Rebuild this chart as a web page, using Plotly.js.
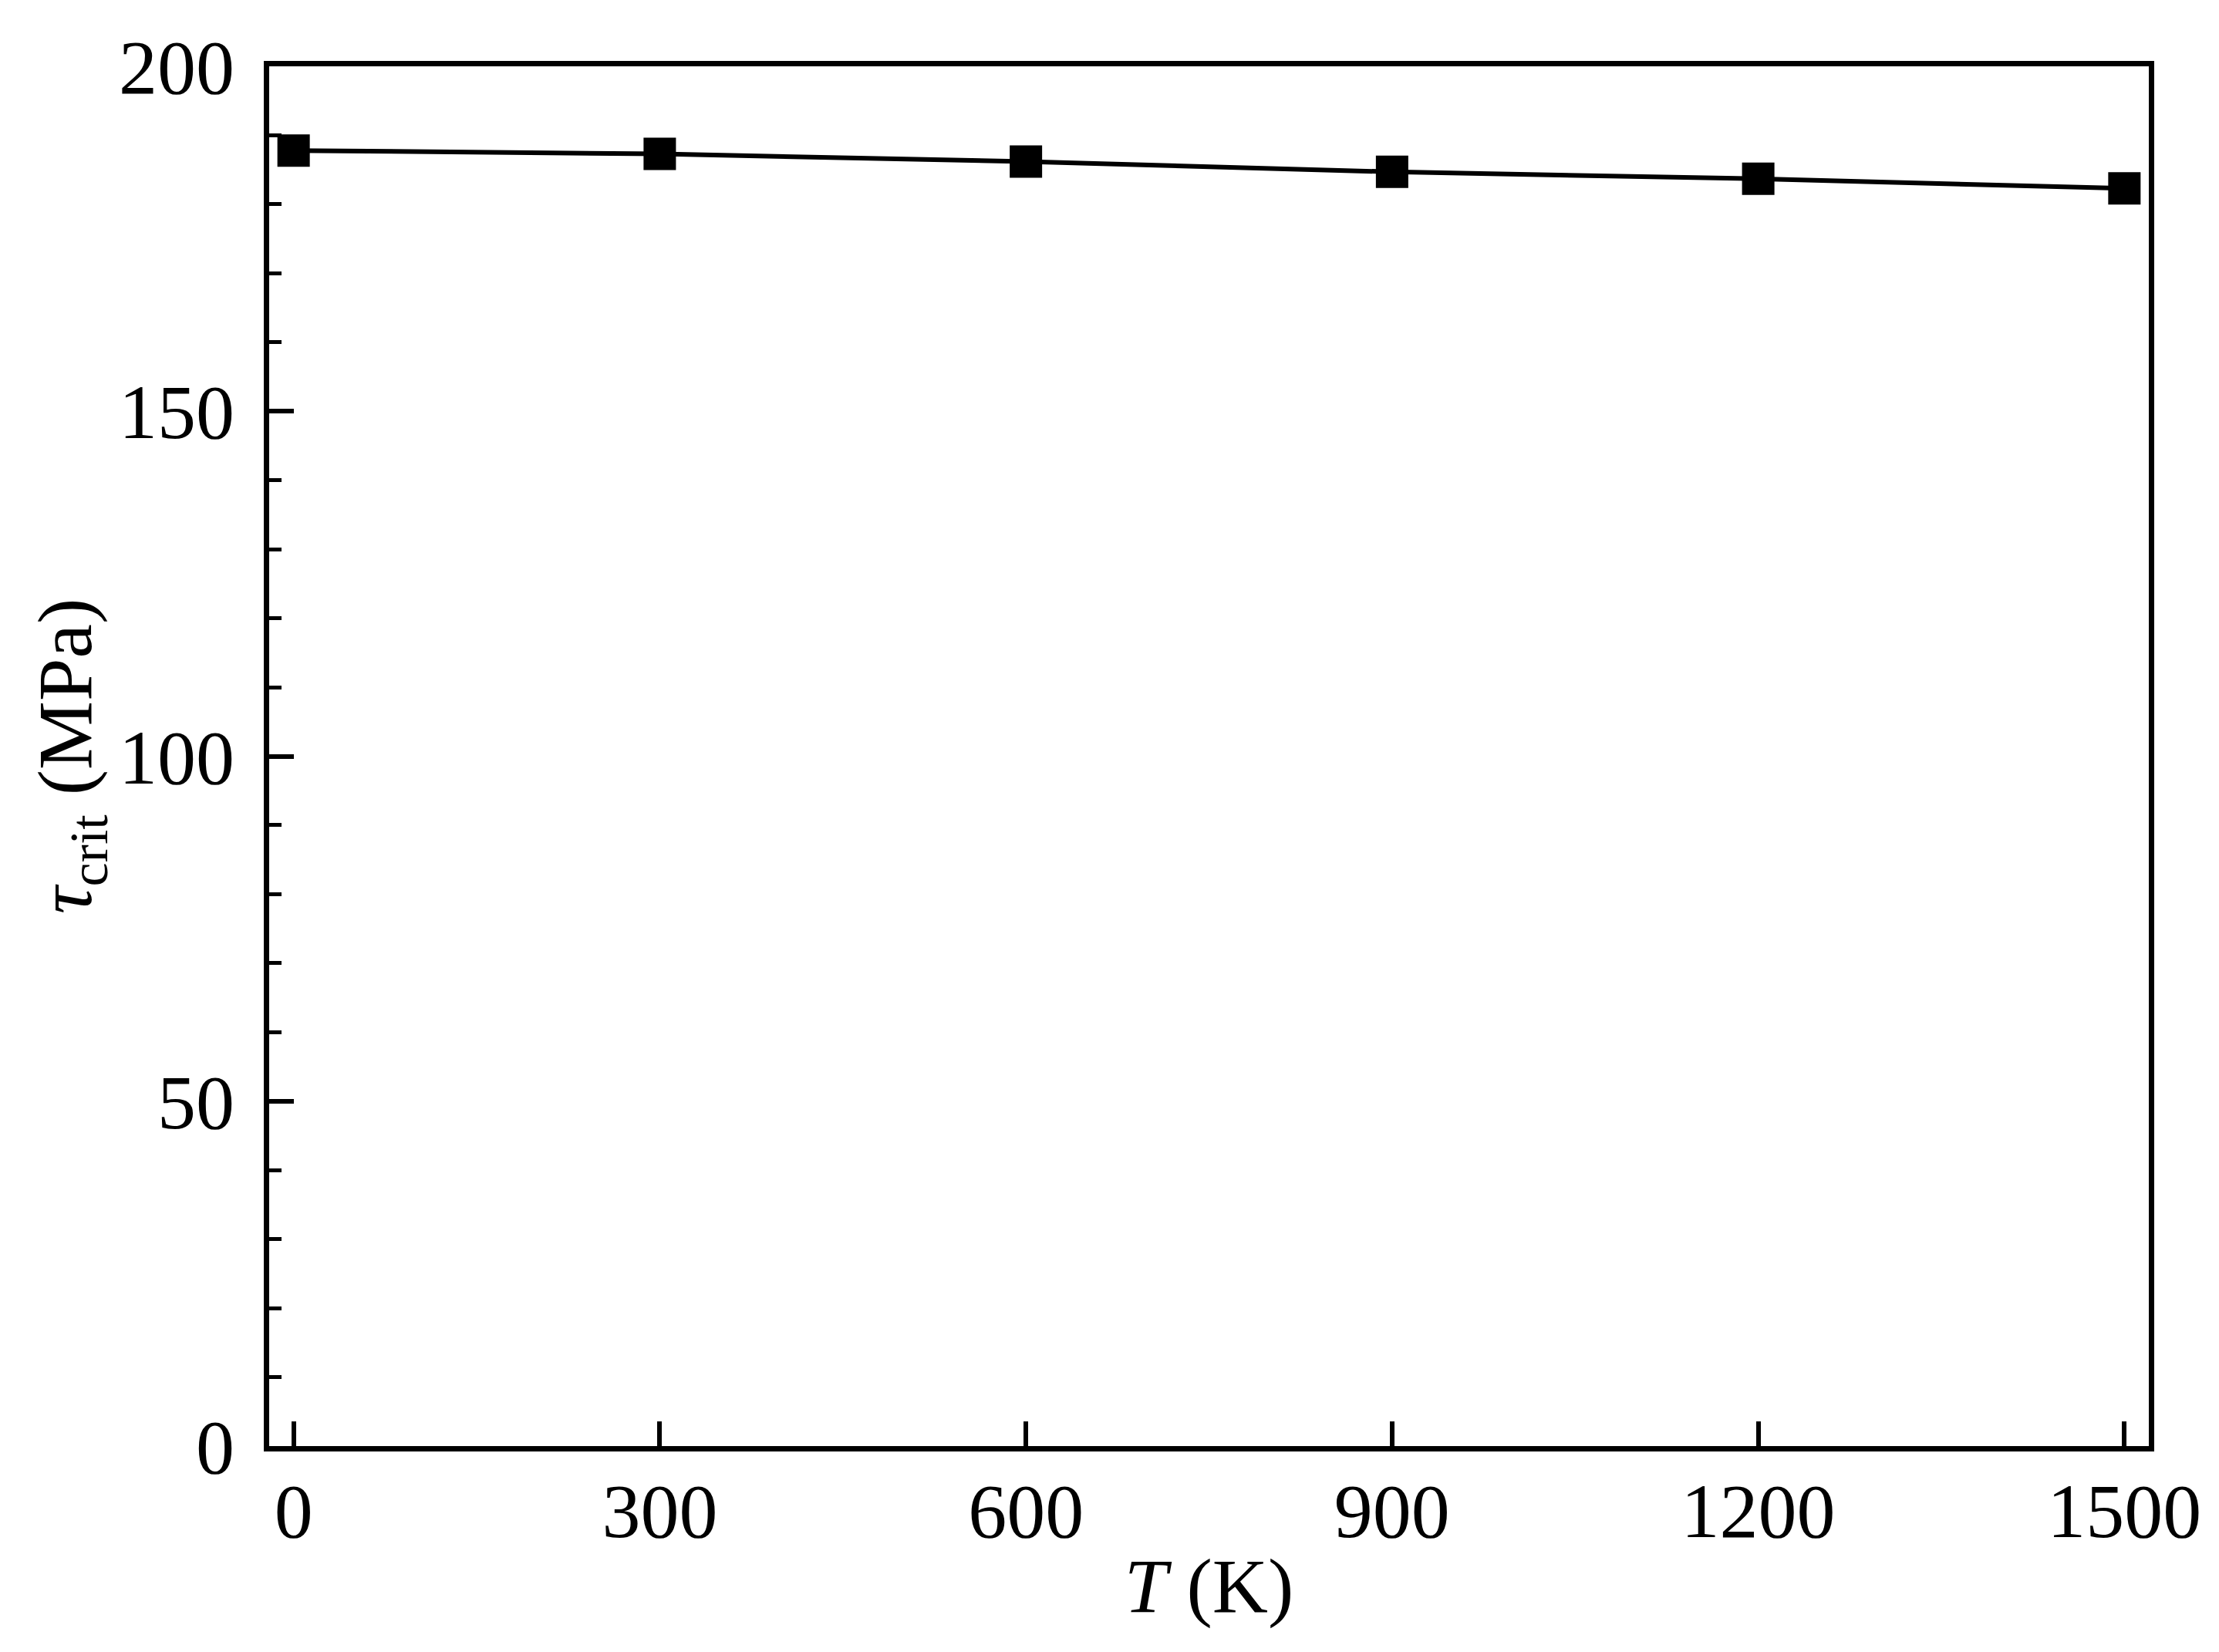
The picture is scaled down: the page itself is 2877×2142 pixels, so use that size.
<!DOCTYPE html>
<html>
<head>
<meta charset="utf-8">
<script src="https://cdn.plot.ly/plotly-3.0.1.min.js"></script>
<style>html,body{margin:0;padding:0;background:#fff;}#chart{width:2877px;height:2142px;}</style>
</head>
<body>
<div id="chart"></div>
<script>
const temperatureK = [0, 300, 600, 900, 1200, 1500];
const tauCritMPa = [187.8, 187.3, 186.2, 184.7, 183.7, 182.3];
const xTickVals = [0, 300, 600, 900, 1200, 1500];
const yTickVals = [0, 50, 100, 150, 200];

const FONT = "Liberation Serif, Times New Roman, serif";

const trace = {
  x: temperatureK,
  y: tauCritMPa,
  type: 'scatter',
  mode: 'lines+markers',
  line: {color: '#000', width: 6},
  marker: {symbol: 'square', size: 42, color: '#000'},
  showlegend: false,
  cliponaxis: false
};

const layout = {
  width: 2877,
  height: 2142,
  margin: {l: 349, r: 91, t: 86, b: 267},
  paper_bgcolor: '#fff',
  plot_bgcolor: '#fff',
  font: {family: FONT, size: 100, color: '#000'},
  showlegend: false,
  xaxis: {
    range: [-20, 1520],
    tickvals: xTickVals,
    ticktext: xTickVals.map(String),
    ticks: 'inside',
    ticklen: 32,
    tickwidth: 6,
    tickcolor: '#000',
    showline: true,
    linewidth: 7,
    linecolor: '#000',
    mirror: true,
    showgrid: false,
    zeroline: false,
    ticklabelstandoff: -9,
    tickfont: {family: FONT, size: 100, color: '#000'},
    title: {text: '<i>T</i> (K)', font: {family: FONT, size: 100, color: '#000'}, standoff: 8},
    automargin: false
  },
  yaxis: {
    range: [0, 200],
    tickvals: yTickVals,
    ticktext: yTickVals.map(String),
    ticks: 'inside',
    ticklen: 32,
    tickwidth: 6,
    tickcolor: '#000',
    minor: {dtick: 10, ticks: 'inside', ticklen: 16, tickwidth: 5, tickcolor: '#000', showgrid: false},
    showline: true,
    linewidth: 7,
    linecolor: '#000',
    mirror: true,
    showgrid: false,
    zeroline: false,
    ticklabelstandoff: 18,
    tickfont: {family: FONT, size: 100, color: '#000'},
    title: {text: '<i>τ</i><sub>crit</sub> (MPa)', font: {family: FONT, size: 100, color: '#000'}, standoff: 4},
    automargin: false
  }
};

Plotly.newPlot('chart', [trace], layout, {displayModeBar: false, staticPlot: true});
</script>
</body>
</html>
